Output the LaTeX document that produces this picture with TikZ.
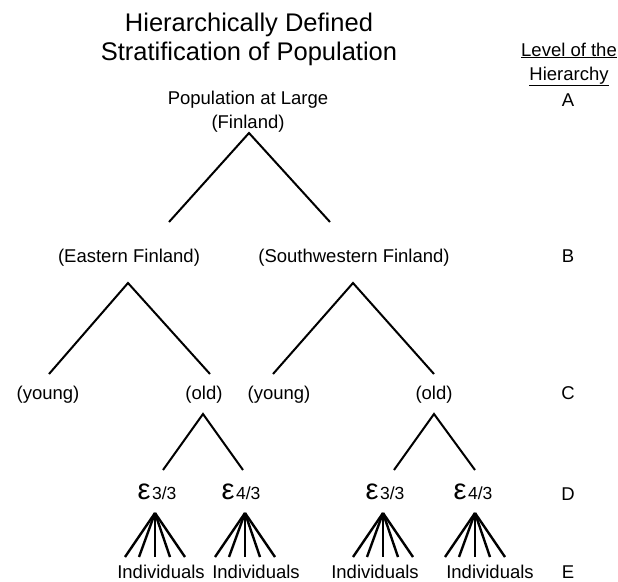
\documentclass[tikz,border=0pt]{standalone}
\usepackage{fontspec}
\usepackage{graphicx}
\setmainfont{Liberation Sans}
\usetikzlibrary{calc}
\begin{document}
\begin{tikzpicture}[x=1pt,y=-1pt,
  lbl/.style={font=\fontsize{18.5}{20}\selectfont, anchor=base, inner sep=0pt},
  ttl/.style={font=\fontsize{25.5}{28}\selectfont, anchor=base, inner sep=0pt},
  br/.style={line width=2pt},
  fanline/.style={line width=2.4pt}]
\useasboundingbox (0,0) rectangle (618,581);
\newcommand{\epsl}[1]{{\fontsize{29}{29}\selectfont ε}\kern1.5pt{\fontsize{17.5}{17.5}\selectfont #1}}
% title
\node[ttl] (t1) at (249,31) {Hierarchically Defined};
\node[ttl] (t2) at (249,60) {Stratification of Population};
% level column
\node[lbl] (lv1) at (569,56) {\underline{Level of the}};
\node[lbl] (lv2) at (569,80) {\underline{Hierarchy}};
\node[lbl] (lA) at (568,106) {A};
\node[lbl] (lB) at (568,262) {B};
\node[lbl] (lC) at (568,399) {C};
\node[lbl] (lD) at (568,500) {D};
\node[lbl] (lE) at (568,578) {E};
% level A
\node[lbl] (pop) at (248,104) {Population at Large};
\node[lbl] (fin) at (248,128) {(Finland)};
% level B
\node[lbl] (east) at (129,262) {(Eastern Finland)};
\node[lbl] (sw) at (354,262) {(Southwestern Finland)};
% level C
\node[lbl] (ey) at (48,399) {(young)};
\node[lbl] (eo) at (204,399) {(old)};
\node[lbl] (sy) at (279,399) {(young)};
\node[lbl] (so) at (434,399) {(old)};
% level D
\node[lbl] (e33) at (157,499) {\epsl{3/3}};
\node[lbl] (e43) at (241,499) {\epsl{4/3}};
\node[lbl] (s33) at (385,499) {\epsl{3/3}};
\node[lbl] (s43) at (473,499) {\epsl{4/3}};
% level E
\node[lbl] (i1) at (161,578) {Individuals};
\node[lbl] (i2) at (256,578) {Individuals};
\node[lbl] (i3) at (375,578) {Individuals};
\node[lbl] (i4) at (490,578) {Individuals};
% branch coordinates
\coordinate (aA) at (249,133);
\coordinate (aAl) at (169,222);
\coordinate (aAr) at (330,222);
\coordinate (aE) at (128,283);
\coordinate (aEl) at (49,374);
\coordinate (aEr) at (210,374);
\coordinate (aS) at (353,283);
\coordinate (aSl) at (273,374);
\coordinate (aSr) at (434,374);
\coordinate (aEo) at (203,414);
\coordinate (aEol) at (163,470);
\coordinate (aEor) at (243,470);
\coordinate (aSo) at (434,414);
\coordinate (aSol) at (394,470);
\coordinate (aSor) at (475,470);
\draw[br] (aAl) -- (aA) -- (aAr);
\draw[br] (aEl) -- (aE) -- (aEr);
\draw[br] (aSl) -- (aS) -- (aSr);
\draw[br] (aEol) -- (aEo) -- (aEor);
\draw[br] (aSol) -- (aSo) -- (aSor);
% fans
\foreach \n/\x in {f1/155,f2/245,f3/383,f4/475}{
  \coordinate (\n) at (\x,513);
  \foreach \d [count=\k] in {-30,-16,0,15,30}{
    \coordinate (\n e\k) at (\x+\d,557);
    \draw[fanline] (\n) -- (\n e\k);
  }
}
\end{tikzpicture}
\end{document}
